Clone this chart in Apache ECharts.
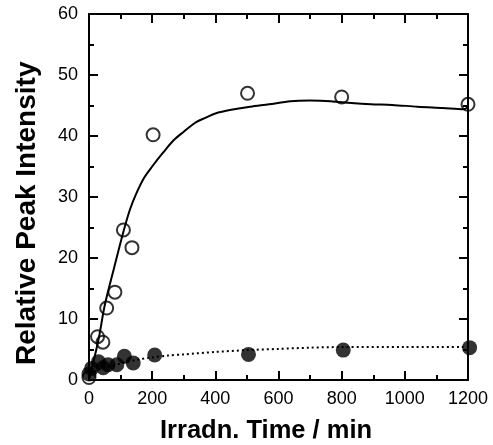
<!DOCTYPE html>
<html><head><meta charset="utf-8">
<script src="https://cdn.jsdelivr.net/npm/echarts@6/dist/echarts.min.js"></script>
<style>html,body{margin:0;padding:0;background:#fff}#c{width:493px;height:445px}</style>
</head><body><div id="c"></div>
<script>
// Open circles (upper series)
const openTime = [0, 27, 44, 56, 82, 109, 136, 203, 502, 800, 1200];
const openVal  = [0.4, 7.1, 6.2, 11.8, 14.4, 24.6, 21.7, 40.2, 47.0, 46.4, 45.2];
// Filled circles (lower series)
const fillTime = [0, 8, 30, 45, 60, 88, 112, 140, 208, 505, 805, 1205];
const fillVal  = [1.0, 1.9, 3.0, 2.0, 2.5, 2.5, 3.9, 2.8, 4.1, 4.2, 4.9, 5.3];
// Solid fitted curve
const fitTime = [0, 30, 50, 80, 110, 130, 150, 175, 200, 235, 268, 300, 337, 370, 400, 450, 511, 570, 638, 700, 765, 830, 892, 960, 1040, 1120, 1187, 1200];
const fitVal  = [0, 6.6, 12.3, 18.5, 24.5, 28, 30.6, 33.2, 35, 37.3, 39.3, 40.7, 42.2, 43, 43.7, 44.3, 44.8, 45.2, 45.7, 45.8, 45.7, 45.4, 45.2, 45.1, 44.8, 44.6, 44.4, 44.8];
// Dotted curve
const dotTime = [0, 50, 100, 150, 200, 250, 300, 400, 500, 600, 700, 800, 1000, 1200];
const dotVal  = [1.2, 2.0, 2.7, 3.3, 3.7, 4.0, 4.2, 4.6, 4.9, 5.1, 5.3, 5.4, 5.4, 5.4];
// Axis ticks
const xTicks = [0, 200, 400, 600, 800, 1000, 1200];
const yTicks = [0, 10, 20, 30, 40, 50, 60];

const zip = (a, b) => a.map((v, i) => [v, b[i]]);
const font = "'Liberation Sans', Arial, Helvetica, sans-serif";
const lineStyle = {color: '#000', width: 2};
const baseAxis = {
  type: 'value',
  axisLine: {show: true, onZero: false, lineStyle},
  axisTick: {show: true, inside: true, length: 9, lineStyle},
  minorTick: {show: true, splitNumber: 2, length: 5, lineStyle: {color: '#000', width: 2}},
  splitLine: {show: false},
};
const chart = echarts.init(document.getElementById('c'), null, {renderer: 'canvas'});
chart.setOption({
  animation: false,
  backgroundColor: '#fff',
  grid: {left: 89, right: 25, top: 14, bottom: 65},
  xAxis: [
    Object.assign({}, baseAxis, {
      position: 'bottom', min: xTicks[0], max: xTicks[xTicks.length - 1], interval: 200,
      axisLabel: {color: '#000', fontSize: 18, fontFamily: font, margin: 10, formatter: v => String(v)}
    }),
    Object.assign({}, baseAxis, {
      position: 'top', min: xTicks[0], max: xTicks[xTicks.length - 1], interval: 200,
      axisLabel: {show: false}
    })
  ],
  yAxis: [
    Object.assign({}, baseAxis, {
      position: 'left', min: yTicks[0], max: yTicks[yTicks.length - 1], interval: 10,
      axisLabel: {color: '#000', fontSize: 18, fontFamily: font, margin: 11, formatter: v => String(v)}
    }),
    Object.assign({}, baseAxis, {
      position: 'right', min: yTicks[0], max: yTicks[yTicks.length - 1], interval: 10,
      axisLabel: {show: false}
    })
  ],
  graphic: [
    {type: 'text', left: 160, top: 418, style: {text: 'Irradn. Time / min', font: "bold 25.5px 'Liberation Sans', Arial, sans-serif", fill: '#000'}},
    {type: 'text', rotation: Math.PI / 2, x: 13, y: 365, style: {text: 'Relative Peak Intensity', font: "bold 28px 'Liberation Sans', Arial, sans-serif", fill: '#000'}}
  ],
  series: [
    {type: 'line', data: zip(fitTime, fitVal), smooth: 0.3, showSymbol: false,
     lineStyle: {color: '#000', width: 2}, clip: true, z: 2},
    {type: 'line', data: zip(dotTime, dotVal), smooth: 0.3, showSymbol: false,
     lineStyle: {color: '#000', width: 2, type: [2, 3]}, z: 2},
    {type: 'scatter', data: zip(openTime, openVal), symbol: 'circle', symbolSize: 13, clip: false,
     itemStyle: {color: 'rgba(0,0,0,0)', borderColor: '#000', borderWidth: 2}, z: 3},
    {type: 'scatter', data: zip(fillTime, fillVal), symbol: 'circle', symbolSize: 15, clip: false,
     itemStyle: {color: '#000'}, z: 3}
  ]
});
</script></body></html>
